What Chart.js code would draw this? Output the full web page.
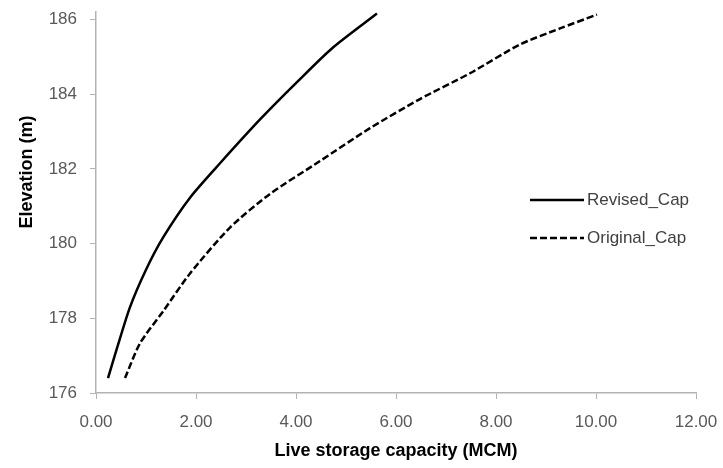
<!DOCTYPE html>
<html>
<head>
<meta charset="utf-8">
<script src="https://cdn.jsdelivr.net/npm/chart.js@4/dist/chart.umd.min.js"></script>
<style>
  html, body { margin: 0; padding: 0; background: #fff; }
  #wrap { width: 723px; height: 468px; }
</style>
</head>
<body>
<div id="wrap"><canvas id="c"></canvas></div>
<script>
// values
const revisedCap = [0.24, 0.42, 0.68, 1.00, 1.34, 1.88, 2.48, 3.30, 4.04, 4.74, 5.62];
const revisedElev = [176.4, 177.2, 178.3, 179.3, 180.16, 181.23, 182.15, 183.35, 184.35, 185.25, 186.16];

const originalCap = [0.58, 0.88, 1.35, 1.88, 2.68, 3.48, 4.48, 5.48, 6.48, 7.48, 8.48, 9.28, 10.02];
const originalElev = [176.4, 177.33, 178.2, 179.2, 180.43, 181.33, 182.21, 183.09, 183.87, 184.56, 185.33, 185.76, 186.13];

const xTicks = [0, 2, 4, 6, 8, 10, 12];
const yTicks = [176, 178, 180, 182, 184, 186];

const seriesNames = ["Revised_Cap", "Original_Cap"];

const FONT = "'Liberation Sans', Arial, sans-serif";
const AXIS = "#b3b3b3";

function pts(xs, ys) {
  return xs.map((x, i) => ({ x: x, y: ys[i] }));
}

// keep the plot box where the original has it
function noEdgePad(axis) {
  axis.paddingLeft = 0;
  axis.paddingRight = 0;
  axis.paddingTop = 0;
  axis.paddingBottom = 0;
}

// legend + y title drawn by hand so they sit where the original has them
const extras = {
  id: "extras",
  afterDraw(chart) {
    const ctx = chart.ctx;
    ctx.save();

    const rows = [200, 238];
    chart.data.datasets.forEach((ds, i) => {
      const y = rows[i];
      ctx.strokeStyle = ds.borderColor;
      ctx.lineWidth = ds.borderWidth;
      ctx.setLineDash(ds.borderDash || []);
      ctx.beginPath();
      ctx.moveTo(530, y);
      ctx.lineTo(584, y);
      ctx.stroke();
      ctx.setLineDash([]);
      ctx.fillStyle = "#404040";
      ctx.font = "17px " + FONT;
      ctx.textBaseline = "middle";
      ctx.textAlign = "left";
      ctx.fillText(ds.label, 587, y);
    });

    ctx.translate(27, 172);
    ctx.rotate(-Math.PI / 2);
    ctx.fillStyle = "#000";
    ctx.font = "bold 18px " + FONT;
    ctx.textAlign = "center";
    ctx.textBaseline = "middle";
    ctx.fillText("Elevation (m)", 0, 0);
    ctx.restore();
  }
};

new Chart(document.getElementById("c"), {
  type: "line",
  data: {
    datasets: [
      {
        label: seriesNames[0],
        data: pts(revisedCap, revisedElev),
        borderColor: "#000",
        borderWidth: 2.5,
        pointRadius: 0,
        tension: 0.25,
        fill: false
      },
      {
        label: seriesNames[1],
        data: pts(originalCap, originalElev),
        borderColor: "#000",
        borderWidth: 2.5,
        borderDash: [7, 3],
        pointRadius: 0,
        tension: 0.25,
        fill: false
      }
    ]
  },
  options: {
    responsive: true,
    maintainAspectRatio: false,
    animation: false,
    layout: { padding: { left: 0, top: 12, right: 27, bottom: 0 } },
    plugins: {
      legend: { display: false },
      tooltip: { enabled: false }
    },
    scales: {
      x: {
        type: "linear",
        min: 0,
        max: 12,
        afterBuildTicks: axis => { axis.ticks = xTicks.map(v => ({ value: v })); },
        afterFit: axis => { axis.height = 75; noEdgePad(axis); },
        ticks: {
          color: "#595959",
          font: { family: FONT, size: 17 },
          padding: 13,
          maxRotation: 0,
          callback: v => v.toFixed(2)
        },
        grid: { drawOnChartArea: false, color: AXIS, tickLength: 6, tickColor: AXIS },
        border: { color: AXIS, width: 1.5 },
        title: {
          display: true,
          text: "Live storage capacity (MCM)",
          color: "#000",
          font: { family: FONT, size: 18, weight: "bold" },
          padding: { top: 0, bottom: 6 }
        }
      },
      y: {
        type: "linear",
        min: 176,
        max: 186.2,
        afterBuildTicks: axis => { axis.ticks = yTicks.map(v => ({ value: v })); },
        afterFit: axis => { axis.width = 96; noEdgePad(axis); },
        ticks: {
          color: "#595959",
          font: { family: FONT, size: 17 },
          padding: 13
        },
        grid: { drawOnChartArea: false, color: AXIS, tickLength: 6, tickColor: AXIS },
        border: { color: AXIS, width: 1.5 }
      }
    }
  },
  plugins: [extras]
});
</script>
</body>
</html>
